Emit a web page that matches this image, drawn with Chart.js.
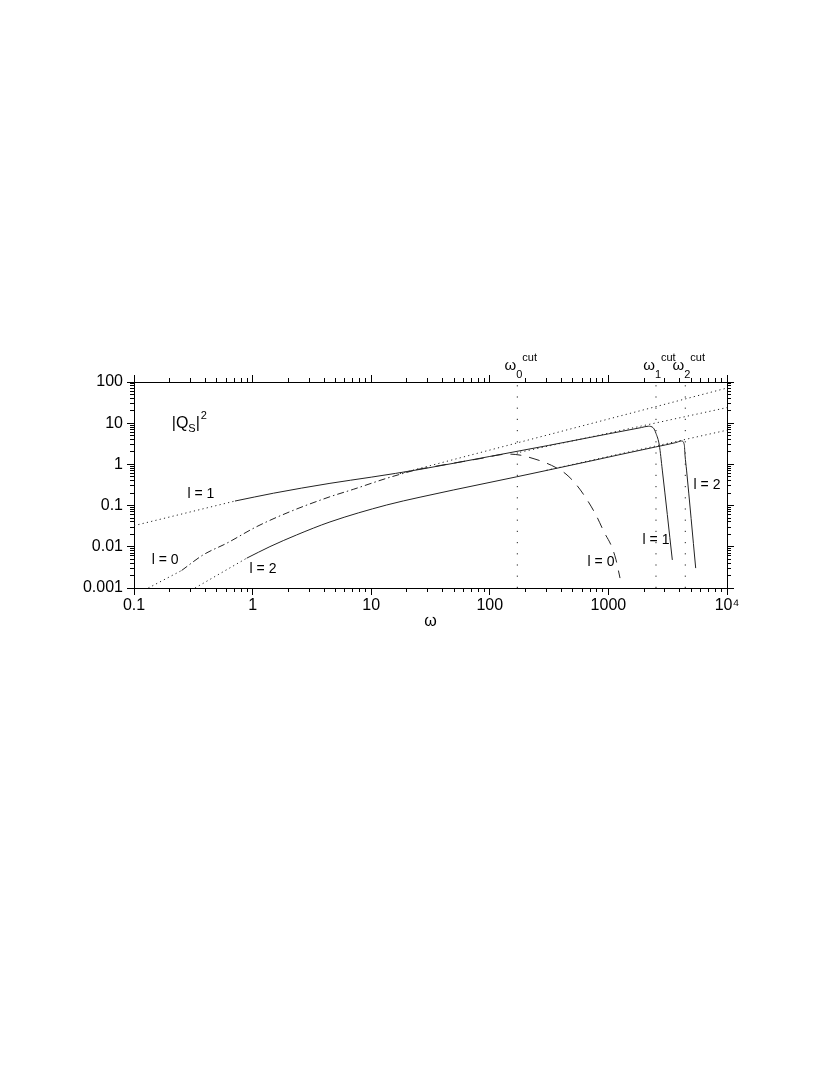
<!DOCTYPE html>
<html>
<head>
<meta charset="utf-8">
<script src="https://cdn.jsdelivr.net/npm/chart.js@4.4.1/dist/chart.umd.min.js"></script>
<style>
  html, body { margin: 0; padding: 0; background: #fff; }
  canvas { display: block; }
</style>
</head>
<body>
<canvas id="chart" width="830" height="1075"></canvas>
<script>
// axes
const xDecades = [0.1, 1, 10, 100, 1000, 10000];
const xDecadeLabels = ['0.1', '1', '10', '100', '1000', '10⁴'];
const yDecades = [0.001, 0.01, 0.1, 1, 10, 100];
const yDecadeLabels = ['0.001', '0.01', '0.1', '1', '10', '100'];
const minorSteps = [2, 3, 4, 5, 6, 7, 8, 9];

// l = 1
const l1LowX = [0.1, 0.71];
const l1LowY = [0.0326, 0.129];
const l1X = [0.71, 1.5, 4.49, 10, 25.8, 100, 311, 1000, 1900, 2170, 2391, 2521, 2687, 2848, 3459];
const l1Y = [0.129, 0.20, 0.347, 0.49, 0.757, 1.56, 2.88, 5.51, 7.85, 8.45, 7.69, 5.63, 2.93, 0.728, 0.0048];

// l = 0
const l0LowX = [0.132, 0.252];
const l0LowY = [0.001, 0.00266];
const l0RiseX = [0.252, 0.384, 0.605, 1.083, 2.07, 4.49, 7.06, 13.5, 24.2];
const l0RiseY = [0.00266, 0.0064, 0.0122, 0.0309, 0.0713, 0.164, 0.248, 0.46, 0.75];
const l0FallX = [24.2, 82.6, 143, 180, 236, 292, 361, 439, 540, 677, 801, 918, 1066, 1159, 1253];
const l0FallY = [0.75, 1.38, 1.78, 1.68, 1.37, 1.11, 0.837, 0.582, 0.315, 0.124, 0.053, 0.023, 0.0101, 0.00483, 0.00174];

// l = 2
const l2LowX = [0.327, 0.892];
const l2LowY = [0.001, 0.0053];
const l2X = [0.892, 1.40, 2.35, 4.49, 13.5, 25.8, 49.2, 169, 311, 700, 1253, 2500, 3700, 4140, 4365, 4425, 4560, 5445];
const l2Y = [0.0053, 0.0101, 0.0194, 0.0401, 0.1035, 0.16, 0.239, 0.501, 0.728, 1.20, 1.73, 2.65, 3.38, 3.70, 3.0, 1.68, 0.728, 0.00304];

// high frequency asymptotes (dotted)
const asymTopX = [17.5, 10000];
const asymTopY = [0.60, 71.4];
const asymMidX = [180, 10000];
const asymMidY = [1.98, 23.9];
const asymLowX = [300, 10000];
const asymLowY = [0.72, 6.77];

// cutoff frequencies
const cutoffs = [170.6, 2519, 4450];
const cutoffSubs = ['0', '1', '2'];

// curve labels
const curveLabelText = ['l = 1', 'l = 0', 'l = 2', 'l = 0', 'l = 1', 'l = 2'];
const curveLabelX = [0.367, 0.183, 1.224, 866, 2520, 6782];
const curveLabelY = [0.191, 0.00483, 0.00292, 0.00432, 0.0147, 0.316];

const ink = '#000';
const curveInk = '#222';
const family = '"Liberation Sans", Arial, Helvetica, sans-serif';

const DOT = [1.2, 3.2];
const VDOT = [1.2, 10];
const DASHDOT = [7, 3, 1.5, 3];
const DASH = [11, 8];

function pts(xs, ys) {
    return xs.map((x, i) => ({ x: x, y: ys[i] }));
}

function line(xs, ys, dash, smooth) {
    return {
        data: pts(xs, ys),
        borderColor: curveInk,
        borderWidth: 1,
        borderDash: dash || [],
        cubicInterpolationMode: smooth ? 'monotone' : 'default',
        pointRadius: 0,
        fill: false
    };
}

function tickValues(decades, minor) {
    const out = [];
    decades.forEach((d, i) => {
        if (!minor) out.push(d);
        else if (i < decades.length - 1) minorSteps.forEach(m => out.push(d * m));
    });
    return out;
}

// one log axis; majors and minors are separate axes so the tick lengths differ
function axis(o) {
    const decades = o.axis === 'x' ? xDecades : yDecades;
    const labels = o.axis === 'x' ? xDecadeLabels : yDecadeLabels;
    const values = tickValues(decades, o.minor);
    return {
        type: 'logarithmic',
        axis: o.axis,
        position: o.position,
        min: decades[0],
        max: decades[decades.length - 1],
        weight: o.minor ? 0 : 1,
        afterBuildTicks: s => { s.ticks = values.map(v => ({ value: v })); },
        afterFit: s => {
            if (s.isHorizontal()) s.height = o.size;
            else s.width = o.size;
        },
        grid: {
            display: true,
            drawOnChartArea: false,
            drawTicks: true,
            tickLength: o.tick,
            color: ink,
            tickColor: ink,
            lineWidth: 1
        },
        border: { display: !o.minor, color: ink, width: 1 },
        title: o.title ? {
            display: true,
            text: o.title,
            color: ink,
            padding: 0,
            font: { family: family, size: 16 }
        } : { display: false },
        ticks: {
            display: !!o.labels,
            autoSkip: false,
            maxRotation: 0,
            padding: o.pad || 0,
            color: ink,
            font: { family: family, size: 16 },
            callback: v => {
                const i = decades.indexOf(v);
                return i >= 0 ? labels[i] : '';
            }
        }
    };
}

const annotate = {
    id: 'annotate',
    afterDatasetsDraw(chart) {
        const { ctx, chartArea } = chart;
        const x = chart.scales.x;
        const y = chart.scales.y;
        ctx.save();
        ctx.fillStyle = ink;

        // curve labels
        ctx.font = '14px ' + family;
        ctx.textAlign = 'center';
        ctx.textBaseline = 'middle';
        curveLabelText.forEach((t, i) => {
            ctx.fillText(t, x.getPixelForValue(curveLabelX[i]), y.getPixelForValue(curveLabelY[i]));
        });

        // omega cut labels over the top axis
        ctx.textBaseline = 'alphabetic';
        const top = chartArea.top;
        cutoffs.forEach((c, i) => {
            const px = x.getPixelForValue(c);
            ctx.font = '15px ' + family;
            ctx.textAlign = 'right';
            ctx.fillText('ω', px - 1, top - 12);
            ctx.font = '11px ' + family;
            ctx.textAlign = 'left';
            ctx.fillText(cutoffSubs[i], px - 1, top - 4);
            ctx.fillText('cut', px + 5, top - 21);
        });

        // |Q_S|^2
        let lx = x.getPixelForValue(0.208);
        const by = y.getPixelForValue(7.56);
        ctx.textAlign = 'left';
        ctx.font = '16px ' + family;
        ctx.fillText('|Q', lx, by);
        lx += ctx.measureText('|Q').width;
        ctx.font = '11px ' + family;
        ctx.fillText('S', lx, by + 4);
        lx += ctx.measureText('S').width;
        ctx.font = '16px ' + family;
        ctx.fillText('|', lx, by);
        lx += ctx.measureText('|').width + 1;
        ctx.font = '11px ' + family;
        ctx.fillText('2', lx, by - 9);

        ctx.restore();
    }
};

new Chart(document.getElementById('chart'), {
    type: 'line',
    data: {
        datasets: [
            line(l1LowX, l1LowY, DOT),
            line(l1X, l1Y, null, true),
            line(l0LowX, l0LowY, DOT),
            line(l0RiseX, l0RiseY, DASHDOT, true),
            line(l0FallX, l0FallY, DASH, true),
            line(l2LowX, l2LowY, DOT),
            line(l2X, l2Y, null, true),
            line(asymTopX, asymTopY, DOT),
            line(asymMidX, asymMidY, DOT),
            line(asymLowX, asymLowY, DOT),
            ...cutoffs.map(c => line([c, c], [yDecades[0], yDecades[yDecades.length - 1]], VDOT))
        ]
    },
    options: {
        responsive: false,
        animation: false,
        devicePixelRatio: 1,
        layout: { padding: { left: 0, right: 103, top: 382, bottom: 444 } },
        plugins: { legend: { display: false }, tooltip: { enabled: false } },
        elements: { line: { tension: 0 } },
        scales: {
            xm: axis({ axis: 'x', position: 'bottom', minor: true, tick: 4, size: 0 }),
            x: axis({ axis: 'x', position: 'bottom', tick: 7, size: 43, labels: true, pad: 1, title: 'ω' }),
            xtm: axis({ axis: 'x', position: 'top', minor: true, tick: 4, size: 0 }),
            xt: axis({ axis: 'x', position: 'top', tick: 7, size: 0 }),
            ym: axis({ axis: 'y', position: 'left', minor: true, tick: 4, size: 0 }),
            y: axis({ axis: 'y', position: 'left', tick: 7, size: 134, labels: true, pad: 4 }),
            yrm: axis({ axis: 'y', position: 'right', minor: true, tick: 4, size: 0 }),
            yr: axis({ axis: 'y', position: 'right', tick: 7, size: 0 })
        }
    },
    plugins: [annotate]
});
</script>
</body>
</html>
